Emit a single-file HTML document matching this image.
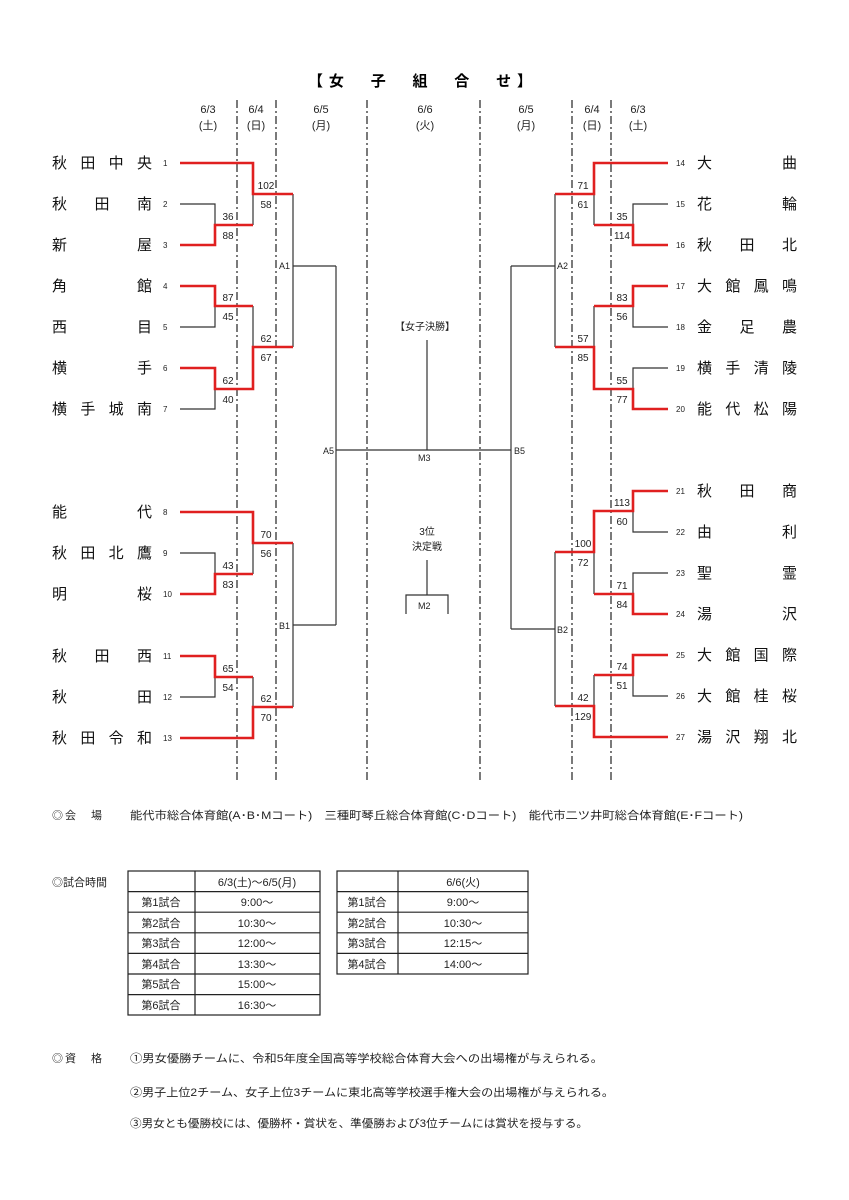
<!DOCTYPE html>
<html><head><meta charset="utf-8"><style>
html,body{margin:0;padding:0;background:#fff;}
svg{display:block;font-family:"Liberation Sans","Noto Sans CJK JP",sans-serif;}
</style></head><body>
<svg width="849" height="1200" viewBox="0 0 849 1200" xmlns="http://www.w3.org/2000/svg">
<rect width="849" height="1200" fill="#fff"/>
<text x="308" y="86" font-size="15" font-weight="bold" textLength="224" lengthAdjust="spacing">【女　子　組　合　せ】</text>
<g font-size="11" text-anchor="middle" fill="#222">
<text x="208" y="113">6/3</text><text x="208" y="129">(土)</text>
<text x="256" y="113">6/4</text><text x="256" y="129">(日)</text>
<text x="321" y="113">6/5</text><text x="321" y="129">(月)</text>
<text x="425" y="113">6/6</text><text x="425" y="129">(火)</text>
<text x="526" y="113">6/5</text><text x="526" y="129">(月)</text>
<text x="592" y="113">6/4</text><text x="592" y="129">(日)</text>
<text x="638" y="113">6/3</text><text x="638" y="129">(土)</text>
</g>
<g stroke="#333" stroke-width="1.3" stroke-dasharray="8,3,2,3">
<line x1="237" y1="100" x2="237" y2="782"/><line x1="276" y1="100" x2="276" y2="782"/>
<line x1="367" y1="100" x2="367" y2="782"/><line x1="480" y1="100" x2="480" y2="782"/>
<line x1="572" y1="100" x2="572" y2="782"/><line x1="611" y1="100" x2="611" y2="782"/>
</g>
<g fill="none" stroke="#333" stroke-width="1.2">
<path d="M180 204H215V245H180M180 286H215V327H180M180 368H215V409H180M180 553H215V594H180M180 656H215V697H180"/>
<path d="M180 163H253M180 512H253M180 738H253"/>
<path d="M215 225H253M215 306H253M215 389H253M215 574H253M215 677H253"/>
<path d="M253 163V225M253 306V389M253 512V574M253 677V738"/>
<path d="M253 194H293M253 347H293M253 543H293M253 707H293M293 194V347M293 543V707M293 266H336M293 625H336M336 266V625M336 450H511"/>
<path d="M511 266V629M511 266H555M511 629H555M555 194V347M555 552V706M555 194H594M555 347H594M555 552H594M555 706H594"/>
<path d="M594 163V225M594 306V389M594 511V594M594 675V737M594 225H633M594 306H633M594 389H633M594 511H633M594 594H633M594 675H633"/>
<path d="M668 204H633V245H668M668 286H633V327H668M668 368H633V409H668M668 491H633V532H668M668 573H633V614H668M668 655H633V696H668"/>
<path d="M594 163H668M594 737H668"/>
<path d="M427 340V450"/>
<path d="M427 560V595M406 614V595H448V614"/>
</g>
<g fill="none" stroke="#e02020" stroke-width="2.6">
<path d="M180 163H253V194H293"/><path d="M180 245H215V225H253"/><path d="M180 286H215V306H253"/>
<path d="M180 368H215V389H253V347H293"/><path d="M180 512H253V543H293"/><path d="M180 594H215V574H253"/>
<path d="M180 656H215V677H253"/><path d="M180 738H253V707H293"/>
<path d="M668 163H594V194H555"/><path d="M668 245H633V225H594"/><path d="M668 286H633V306H594"/>
<path d="M668 409H633V389H594V347H555"/><path d="M668 491H633V511H594V552H555"/><path d="M668 614H633V594H594"/>
<path d="M668 655H633V675H594"/><path d="M668 737H594V706H555"/>
</g>
<g font-size="10" text-anchor="middle" fill="#222">
<text x="228" y="220">36</text><text x="228" y="239">88</text>
<text x="228" y="301">87</text><text x="228" y="320">45</text>
<text x="228" y="384">62</text><text x="228" y="403">40</text>
<text x="228" y="569">43</text><text x="228" y="588">83</text>
<text x="228" y="672">65</text><text x="228" y="691">54</text>
<text x="266" y="189">102</text><text x="266" y="208">58</text>
<text x="266" y="342">62</text><text x="266" y="361">67</text>
<text x="266" y="538">70</text><text x="266" y="557">56</text>
<text x="266" y="702">62</text><text x="266" y="721">70</text>
<text x="622" y="220">35</text><text x="622" y="239">114</text>
<text x="622" y="301">83</text><text x="622" y="320">56</text>
<text x="622" y="384">55</text><text x="622" y="403">77</text>
<text x="622" y="506">113</text><text x="622" y="525">60</text>
<text x="622" y="589">71</text><text x="622" y="608">84</text>
<text x="622" y="670">74</text><text x="622" y="689">51</text>
<text x="583" y="189">71</text><text x="583" y="208">61</text>
<text x="583" y="342">57</text><text x="583" y="361">85</text>
<text x="583" y="547">100</text><text x="583" y="566">72</text>
<text x="583" y="701">42</text><text x="583" y="720">129</text>
</g>
<g font-size="9" fill="#222">
<text x="279" y="269">A1</text><text x="323" y="454">A5</text><text x="279" y="629">B1</text>
<text x="418" y="461">M3</text><text x="514" y="454">B5</text>
<text x="557" y="269">A2</text><text x="557" y="633">B2</text>
<text x="418" y="609">M2</text>
</g>
<g font-size="10" fill="#222" text-anchor="middle">
<text x="425" y="330">【女子決勝】</text>
<text x="427" y="535">3位</text><text x="427" y="550">決定戦</text>
</g>
<g font-size="8" fill="#222">
<text x="163" y="166">1</text><text x="163" y="207">2</text><text x="163" y="248">3</text><text x="163" y="289">4</text>
<text x="163" y="330">5</text><text x="163" y="371">6</text><text x="163" y="412">7</text><text x="163" y="515">8</text>
<text x="163" y="556">9</text><text x="163" y="597">10</text><text x="163" y="659">11</text><text x="163" y="700">12</text><text x="163" y="741">13</text>
<text x="676" y="166">14</text><text x="676" y="207">15</text><text x="676" y="248">16</text><text x="676" y="289">17</text>
<text x="676" y="330">18</text><text x="676" y="371">19</text><text x="676" y="412">20</text><text x="676" y="494">21</text>
<text x="676" y="535">22</text><text x="676" y="576">23</text><text x="676" y="617">24</text><text x="676" y="658">25</text>
<text x="676" y="699">26</text><text x="676" y="740">27</text>
</g>
<g font-size="15" fill="#111" lengthAdjust="spacing">
<text x="52" y="168" textLength="100" lengthAdjust="spacing">秋田中央</text>
<text x="52" y="209" textLength="100" lengthAdjust="spacing">秋田南</text>
<text x="52" y="250" textLength="100" lengthAdjust="spacing">新屋</text>
<text x="52" y="291" textLength="100" lengthAdjust="spacing">角館</text>
<text x="52" y="332" textLength="100" lengthAdjust="spacing">西目</text>
<text x="52" y="373" textLength="100" lengthAdjust="spacing">横手</text>
<text x="52" y="414" textLength="100" lengthAdjust="spacing">横手城南</text>
<text x="52" y="517" textLength="100" lengthAdjust="spacing">能代</text>
<text x="52" y="558" textLength="100" lengthAdjust="spacing">秋田北鷹</text>
<text x="52" y="599" textLength="100" lengthAdjust="spacing">明桜</text>
<text x="52" y="661" textLength="100" lengthAdjust="spacing">秋田西</text>
<text x="52" y="702" textLength="100" lengthAdjust="spacing">秋田</text>
<text x="52" y="743" textLength="100" lengthAdjust="spacing">秋田令和</text>
<text x="697" y="168" textLength="100" lengthAdjust="spacing">大曲</text>
<text x="697" y="209" textLength="100" lengthAdjust="spacing">花輪</text>
<text x="697" y="250" textLength="100" lengthAdjust="spacing">秋田北</text>
<text x="697" y="291" textLength="100" lengthAdjust="spacing">大館鳳鳴</text>
<text x="697" y="332" textLength="100" lengthAdjust="spacing">金足農</text>
<text x="697" y="373" textLength="100" lengthAdjust="spacing">横手清陵</text>
<text x="697" y="414" textLength="100" lengthAdjust="spacing">能代松陽</text>
<text x="697" y="496" textLength="100" lengthAdjust="spacing">秋田商</text>
<text x="697" y="537" textLength="100" lengthAdjust="spacing">由利</text>
<text x="697" y="578" textLength="100" lengthAdjust="spacing">聖霊</text>
<text x="697" y="619" textLength="100" lengthAdjust="spacing">湯沢</text>
<text x="697" y="660" textLength="100" lengthAdjust="spacing">大館国際</text>
<text x="697" y="701" textLength="100" lengthAdjust="spacing">大館桂桜</text>
<text x="697" y="742" textLength="100" lengthAdjust="spacing">湯沢翔北</text>
</g>
<g font-size="11" fill="#222">
<text x="52" y="819" textLength="50" lengthAdjust="spacing">◎会　場</text>
<text x="130" y="819" textLength="613" lengthAdjust="spacingAndGlyphs">能代市総合体育館(A･B･Mコート)　三種町琴丘総合体育館(C･Dコート)　能代市二ツ井町総合体育館(E･Fコート)</text>
<text x="52" y="886">◎試合時間</text>
<text x="52" y="1062" textLength="50" lengthAdjust="spacing">◎資　格</text>
<text x="130" y="1062" textLength="473" lengthAdjust="spacingAndGlyphs">①男女優勝チームに、令和5年度全国高等学校総合体育大会への出場権が与えられる。</text>
<text x="130" y="1096" textLength="484" lengthAdjust="spacingAndGlyphs">②男子上位2チーム、女子上位3チームに東北高等学校選手権大会の出場権が与えられる。</text>
<text x="130" y="1127" textLength="458" lengthAdjust="spacingAndGlyphs">③男女とも優勝校には、優勝杯・賞状を、準優勝および3位チームには賞状を授与する。</text>
</g>
<g fill="none" stroke="#222" stroke-width="1.2">
<rect x="128" y="871" width="192" height="144"/>
<path d="M195 871V1015M128 891.6H320M128 912.2H320M128 932.8H320M128 953.4H320M128 974H320M128 994.6H320"/>
<rect x="337" y="871" width="191" height="103"/>
<path d="M398 871V974M337 891.6H528M337 912.2H528M337 932.8H528M337 953.4H528"/>
</g>
<g font-size="11" fill="#222" text-anchor="middle">
<text x="257" y="886">6/3(土)～6/5(月)</text>
<text x="463" y="886">6/6(火)</text>
<text x="161" y="906">第1試合</text><text x="257" y="906">9:00～</text>
<text x="161" y="927">第2試合</text><text x="257" y="927">10:30～</text>
<text x="161" y="947">第3試合</text><text x="257" y="947">12:00～</text>
<text x="161" y="968">第4試合</text><text x="257" y="968">13:30～</text>
<text x="161" y="988">第5試合</text><text x="257" y="988">15:00～</text>
<text x="161" y="1009">第6試合</text><text x="257" y="1009">16:30～</text>
<text x="367" y="906">第1試合</text><text x="463" y="906">9:00～</text>
<text x="367" y="927">第2試合</text><text x="463" y="927">10:30～</text>
<text x="367" y="947">第3試合</text><text x="463" y="947">12:15～</text>
<text x="367" y="968">第4試合</text><text x="463" y="968">14:00～</text>
</g>
</svg>
</body></html>
